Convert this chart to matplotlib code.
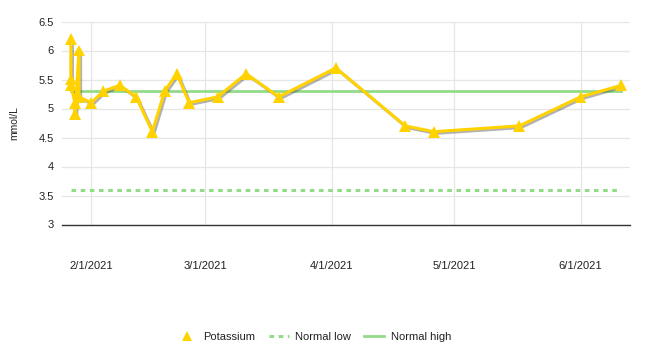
import matplotlib
matplotlib.use("Agg")
import matplotlib.pyplot as plt
import matplotlib.dates as mdates
import matplotlib.patheffects as pe
from matplotlib.lines import Line2D
import pandas as pd

plt.rcParams['font.family'] = ['Liberation Sans', 'DejaVu Sans']

dates = ["2021-01-27", "2021-01-27", "2021-01-27", "2021-01-28", "2021-01-28",
         "2021-01-29", "2021-01-29", "2021-02-01", "2021-02-04", "2021-02-08",
         "2021-02-12", "2021-02-16", "2021-02-19", "2021-02-22", "2021-02-25",
         "2021-03-04", "2021-03-11", "2021-03-19", "2021-04-02", "2021-04-19",
         "2021-04-26", "2021-05-17", "2021-06-01", "2021-06-11"]
potassium = [6.2, 5.5, 5.4, 5.1, 4.9,
             6.0, 5.2, 5.1, 5.3, 5.4,
             5.2, 4.6, 5.3, 5.6, 5.1,
             5.2, 5.6, 5.2, 5.7, 4.7,
             4.6, 4.7, 5.2, 5.4]
normal_low = 3.6
normal_high = 5.3
x_ticks = ["2021-02-01", "2021-03-01", "2021-04-01", "2021-05-01", "2021-06-01"]
x_tick_labels = ["2/1/2021", "3/1/2021", "4/1/2021", "5/1/2021", "6/1/2021"]
y_ticks = [3, 3.5, 4, 4.5, 5, 5.5, 6, 6.5]
y_tick_labels = ["3", "3.5", "4", "4.5", "5", "5.5", "6", "6.5"]

d = pd.to_datetime(dates)
xt = pd.to_datetime(x_ticks)

fig = plt.figure(figsize=(6.5, 3.59), dpi=100)
ax = fig.add_axes([62/650, (359-224.5)/359, (630-62)/650, (224.5-21.5)/359])

yellow = '#FFD200'
green = '#93DB89'

ax.plot([d[0], d[-1]], [normal_low]*2, color=green, lw=2.2,
        linestyle=(0, (1.5, 1.5)), zorder=2)
ax.plot([d[0], d[-1]], [normal_high]*2, color=green, lw=2.0, zorder=2)
ax.plot(d, potassium, color=yellow, lw=2.2, marker='^', markersize=8.5,
        markeredgewidth=0, zorder=3,
        path_effects=[pe.SimpleLineShadow(offset=(1.2, -1.2), shadow_color='#555555', alpha=0.45),
                      pe.Normal()])

ax.set_xlim(pd.Timestamp("2021-01-24 20:00"), pd.Timestamp("2021-06-13 03:00"))
ax.set_ylim(3, 6.5)
ax.set_xticks(xt)
ax.set_xticklabels(x_tick_labels)
ax.set_yticks(y_ticks)
ax.set_yticklabels(y_tick_labels)
ax.tick_params(axis='both', length=0, labelsize=8, labelcolor='#222222')
ax.tick_params(axis='x', pad=26)
ax.tick_params(axis='y', pad=6)
ax.grid(True, color='#e6e6e6', lw=0.9, zorder=0)
ax.set_axisbelow(True)
for s in ['top', 'right', 'left']:
    ax.spines[s].set_visible(False)
ax.spines['bottom'].set_color('#333333')
ax.spines['bottom'].set_linewidth(1.0)
ax.set_ylabel("mmol/L", fontsize=7.5, color='#222222', labelpad=14)

handles = [
    Line2D([], [], color=yellow, marker='^', linestyle='none', markersize=7, markeredgewidth=0),
    Line2D([], [], color=green, lw=2.2, linestyle=(0, (1.5, 1.5))),
    Line2D([], [], color=green, lw=2.0),
]
fig.legend(handles, ["Potassium", "Normal low", "Normal high"], loc='center',
           bbox_to_anchor=(314/650, (359-337)/359), ncol=3, frameon=False,
           fontsize=8, handlelength=1.8, columnspacing=1.2, handletextpad=0.6,
           labelcolor='#222222')

fig.savefig("out.png", dpi=100)
